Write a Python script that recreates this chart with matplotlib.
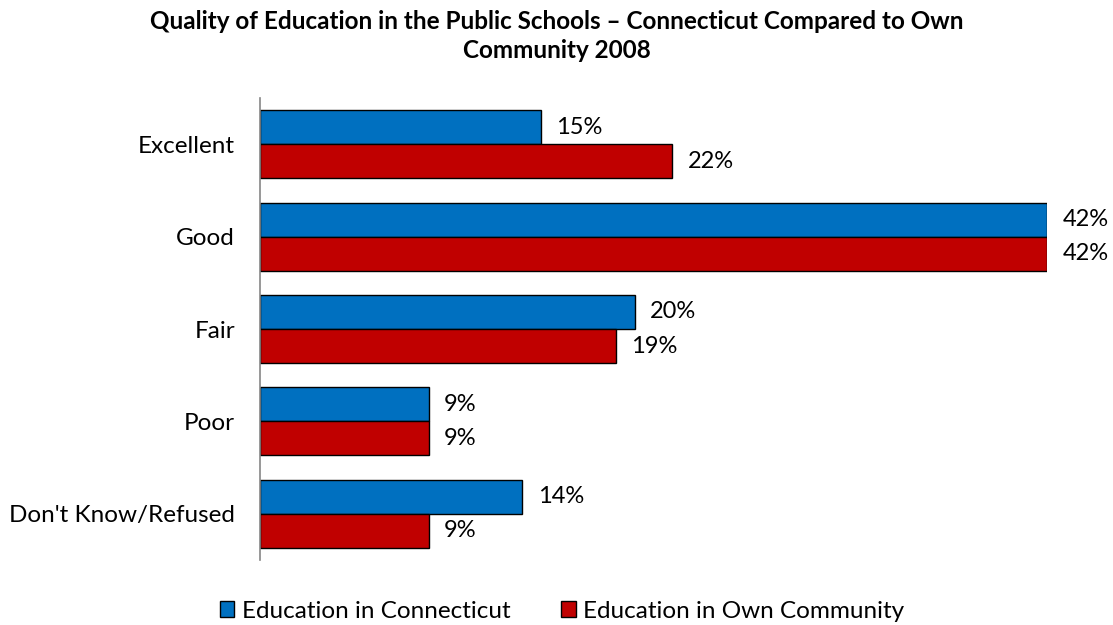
import matplotlib.pyplot as plt
import numpy as np

plt.rcParams['font.family'] = ['Lato', 'DejaVu Sans']

categories = ['Excellent', 'Good', 'Fair', 'Poor', "Don't Know/Refused"]
connecticut = [15, 42, 20, 9, 14]
own_community = [22, 42, 19, 9, 9]
series_names = ['Education in Connecticut', 'Education in Own Community']
colors = ['#0070C0', '#C00000']

fig = plt.figure(figsize=(11.13, 6.25), dpi=100)
ax = fig.add_axes([260 / 1113, 65 / 625, 787 / 1113, 462 / 625])

y = np.arange(len(categories))
h = 0.368
b1 = ax.barh(y - h / 2, connecticut, height=h, color=colors[0], edgecolor='black',
             linewidth=1, label=series_names[0])
b2 = ax.barh(y + h / 2, own_community, height=h, color=colors[1], edgecolor='black',
             linewidth=1, label=series_names[1])

for bars, vals in [(b1, connecticut), (b2, own_community)]:
    for bar, v in zip(bars, vals):
        ax.annotate(f'{v}%', (v, bar.get_y() + bar.get_height() / 2),
                    xytext=(11, 0), textcoords='offset points',
                    va='center', ha='left', fontsize=17, annotation_clip=False)

ax.set_xlim(0, 42)
ax.set_ylim(len(categories) - 0.5, -0.5)
ax.set_yticks(y)
ax.set_yticklabels(categories, fontsize=17.5)
ax.tick_params(axis='y', length=0, pad=18)
ax.set_xticks([])
for s in ['top', 'right', 'bottom']:
    ax.spines[s].set_visible(False)
ax.spines['left'].set_color('#868686')
ax.spines['left'].set_linewidth(1.2)

fig.text(0.5, 0.984, 'Quality of Education in the Public Schools \u2013 Connecticut Compared to Own\nCommunity 2008',
         ha='center', va='top', fontsize=17.5, fontweight='bold', linespacing=1.32)

fig.legend(handles=[b1, b2], loc='center', bbox_to_anchor=(0.505, 0.022), ncol=2,
           frameon=False, fontsize=17.5, handlelength=0.6, handleheight=0.6,
           handletextpad=0.3, columnspacing=2.1)

fig.savefig('out.png', dpi=100)
